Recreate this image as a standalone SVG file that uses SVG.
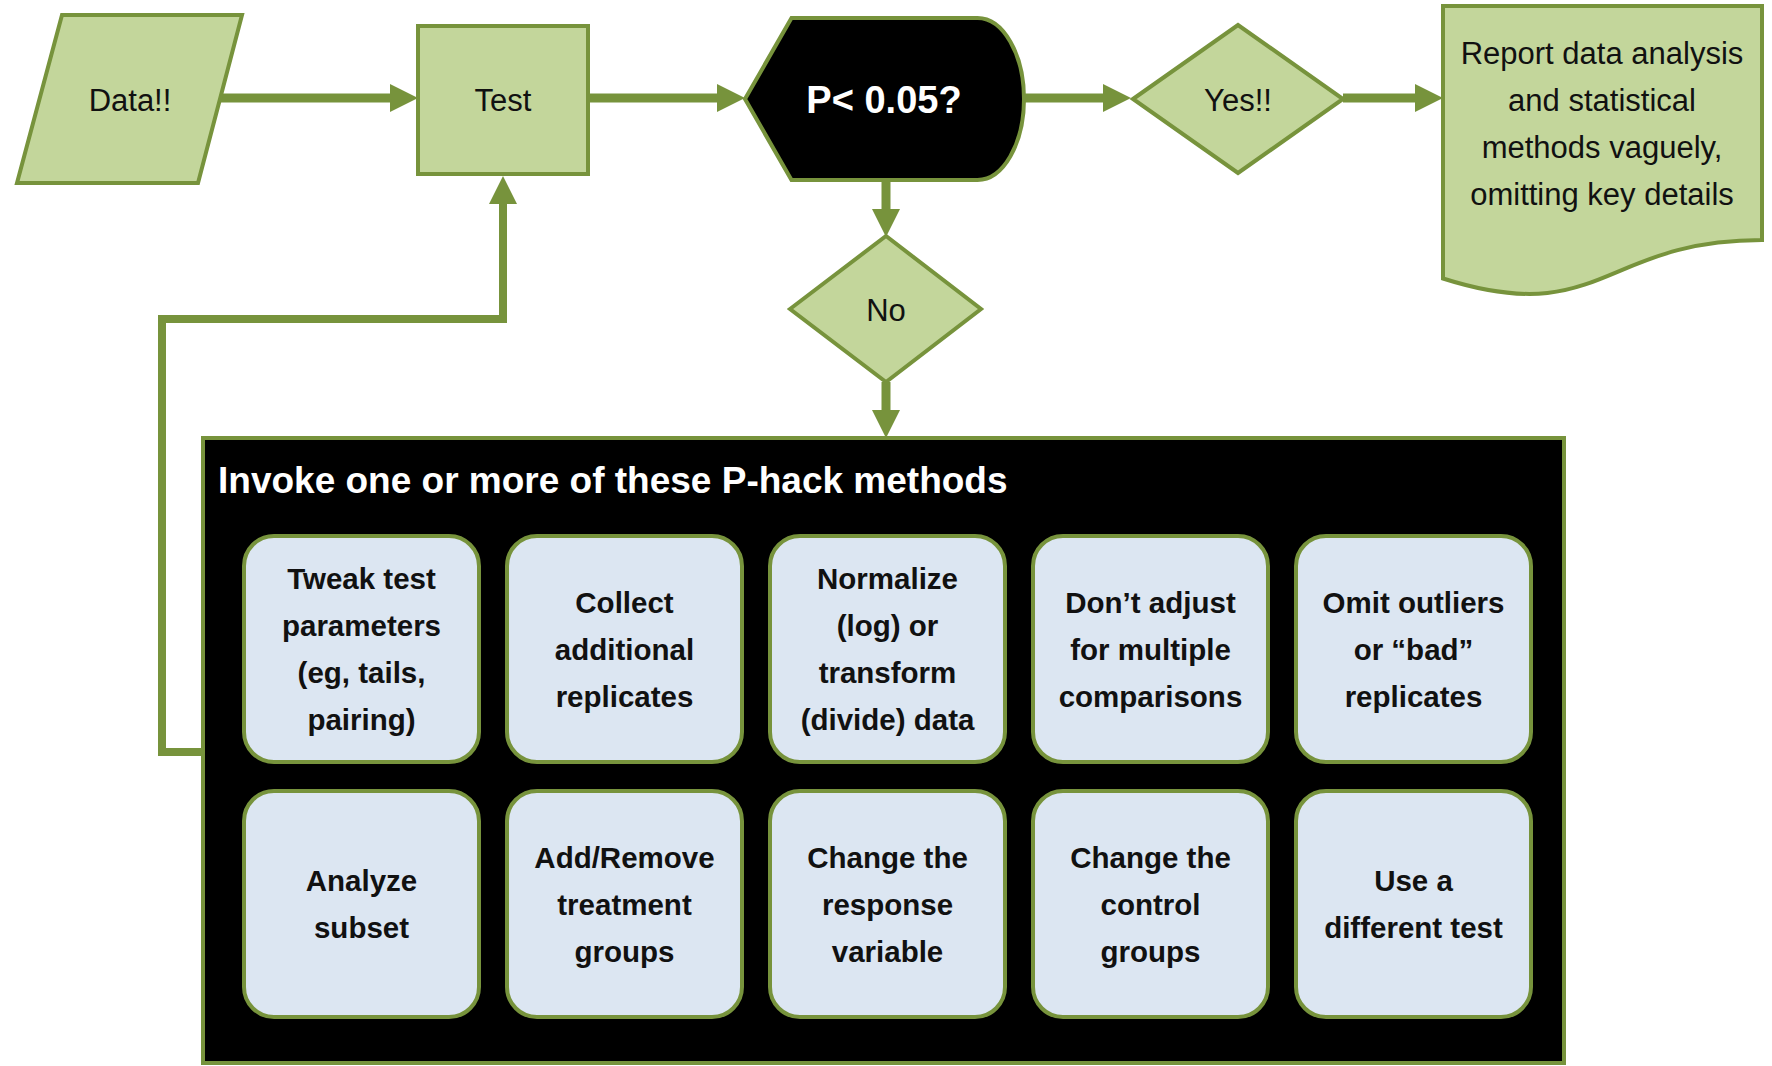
<svg xmlns="http://www.w3.org/2000/svg" width="1772" height="1066" viewBox="0 0 1772 1066">
<style>
  .shape { fill: #C3D69B; stroke: #77933C; stroke-width: 4; }
  .dark { fill: #000000; stroke: #77933C; stroke-width: 4; }
  .method { fill: #DCE6F2; stroke: #77933C; stroke-width: 4; }
  .conn { fill: none; stroke: #77933C; stroke-width: 9; }
  .fb { fill: none; stroke: #77933C; stroke-width: 8; }
  .t { font-family: "Liberation Sans", Arial, sans-serif; fill: #111111; text-anchor: middle; }
  .lbl { font-size: 31px; }
  .pq { font-size: 38px; font-weight: bold; fill: #ffffff; }
  .ttl { font-family: "Liberation Sans", Arial, sans-serif; font-size: 37px; font-weight: bold; fill: #ffffff; }
  .m { font-size: 29.5px; font-weight: bold; }
</style>
<defs>
  <marker id="ah" viewBox="0 0 28 28" markerWidth="28" markerHeight="28" markerUnits="userSpaceOnUse" refX="2" refY="14" orient="auto">
    <path d="M0,0 L28,14 L0,28 Z" fill="#77933C"/>
  </marker>
</defs>
<rect width="1772" height="1066" fill="#ffffff"/>

<g id="connectors">
  <path class="conn" d="M220,98 H392" marker-end="url(#ah)"/>
  <path class="conn" d="M588,98 H719" marker-end="url(#ah)"/>
  <path class="conn" d="M1024,98 H1105" marker-end="url(#ah)"/>
  <path class="conn" d="M1343,98 H1417" marker-end="url(#ah)"/>
  <path class="conn" d="M886,180 V211" marker-end="url(#ah)"/>
  <path class="conn" d="M886,382 V412" marker-end="url(#ah)"/>
  <path class="fb" d="M205,752 H162 V319 H503 V202" marker-end="url(#ah)"/>
</g>

<g id="data">
  <polygon class="shape" points="62,15 242,15 198,183 17,183"/>
  <text class="t lbl" x="130" y="111">Data!!</text>
</g>
<g id="test">
  <rect class="shape" x="418" y="26" width="170" height="148"/>
  <text class="t lbl" x="503" y="111">Test</text>
</g>
<g id="pvalue">
  <path class="dark" d="M745,99 L791.5,18 L977.5,18 A46.5,81 0 0 1 977.5,180 L791.5,180 Z"/>
  <text class="t pq" x="884" y="113">P&lt; 0.05?</text>
</g>
<g id="yes">
  <polygon class="shape" points="1133,99 1238,25 1343,99 1238,173"/>
  <text class="t lbl" x="1238" y="111">Yes!!</text>
</g>
<g id="no">
  <polygon class="shape" points="790,309 886,236 981,309 886,382"/>
  <text class="t lbl" x="886" y="321">No</text>
</g>
<g id="report">
  <path class="shape" d="M1443,6 H1762 V240 C1602,240 1602,329 1443,278.5 Z"/>
  <text class="t lbl" x="1602" y="64">Report data analysis</text>
  <text class="t lbl" x="1602" y="111">and statistical</text>
  <text class="t lbl" x="1602" y="158">methods vaguely,</text>
  <text class="t lbl" x="1602" y="205">omitting key details</text>
</g>

<g id="phack">
  <rect class="dark" x="203" y="438" width="1361" height="625"/>
  <text class="ttl" x="218" y="493">Invoke one or more of these P-hack methods</text>
</g>

<g id="m1">
  <rect class="method" x="244" y="536" width="235" height="226" rx="30"/>
  <text class="t m" x="361.5" y="589">Tweak test</text>
  <text class="t m" x="361.5" y="636">parameters</text>
  <text class="t m" x="361.5" y="683">(eg, tails,</text>
  <text class="t m" x="361.5" y="730">pairing)</text>
</g>
<g id="m2">
  <rect class="method" x="507" y="536" width="235" height="226" rx="30"/>
  <text class="t m" x="624.5" y="613">Collect</text>
  <text class="t m" x="624.5" y="660">additional</text>
  <text class="t m" x="624.5" y="707">replicates</text>
</g>
<g id="m3">
  <rect class="method" x="770" y="536" width="235" height="226" rx="30"/>
  <text class="t m" x="887.5" y="589">Normalize</text>
  <text class="t m" x="887.5" y="636">(log) or</text>
  <text class="t m" x="887.5" y="683">transform</text>
  <text class="t m" x="887.5" y="730">(divide) data</text>
</g>
<g id="m4">
  <rect class="method" x="1033" y="536" width="235" height="226" rx="30"/>
  <text class="t m" x="1150.5" y="613">Don’t adjust</text>
  <text class="t m" x="1150.5" y="660">for multiple</text>
  <text class="t m" x="1150.5" y="707">comparisons</text>
</g>
<g id="m5">
  <rect class="method" x="1296" y="536" width="235" height="226" rx="30"/>
  <text class="t m" x="1413.5" y="613">Omit outliers</text>
  <text class="t m" x="1413.5" y="660">or “bad”</text>
  <text class="t m" x="1413.5" y="707">replicates</text>
</g>
<g id="m6">
  <rect class="method" x="244" y="791" width="235" height="226" rx="30"/>
  <text class="t m" x="361.5" y="891">Analyze</text>
  <text class="t m" x="361.5" y="938">subset</text>
</g>
<g id="m7">
  <rect class="method" x="507" y="791" width="235" height="226" rx="30"/>
  <text class="t m" x="624.5" y="868">Add/Remove</text>
  <text class="t m" x="624.5" y="915">treatment</text>
  <text class="t m" x="624.5" y="962">groups</text>
</g>
<g id="m8">
  <rect class="method" x="770" y="791" width="235" height="226" rx="30"/>
  <text class="t m" x="887.5" y="868">Change the</text>
  <text class="t m" x="887.5" y="915">response</text>
  <text class="t m" x="887.5" y="962">variable</text>
</g>
<g id="m9">
  <rect class="method" x="1033" y="791" width="235" height="226" rx="30"/>
  <text class="t m" x="1150.5" y="868">Change the</text>
  <text class="t m" x="1150.5" y="915">control</text>
  <text class="t m" x="1150.5" y="962">groups</text>
</g>
<g id="m10">
  <rect class="method" x="1296" y="791" width="235" height="226" rx="30"/>
  <text class="t m" x="1413.5" y="891">Use a</text>
  <text class="t m" x="1413.5" y="938">different test</text>
</g>
</svg>
